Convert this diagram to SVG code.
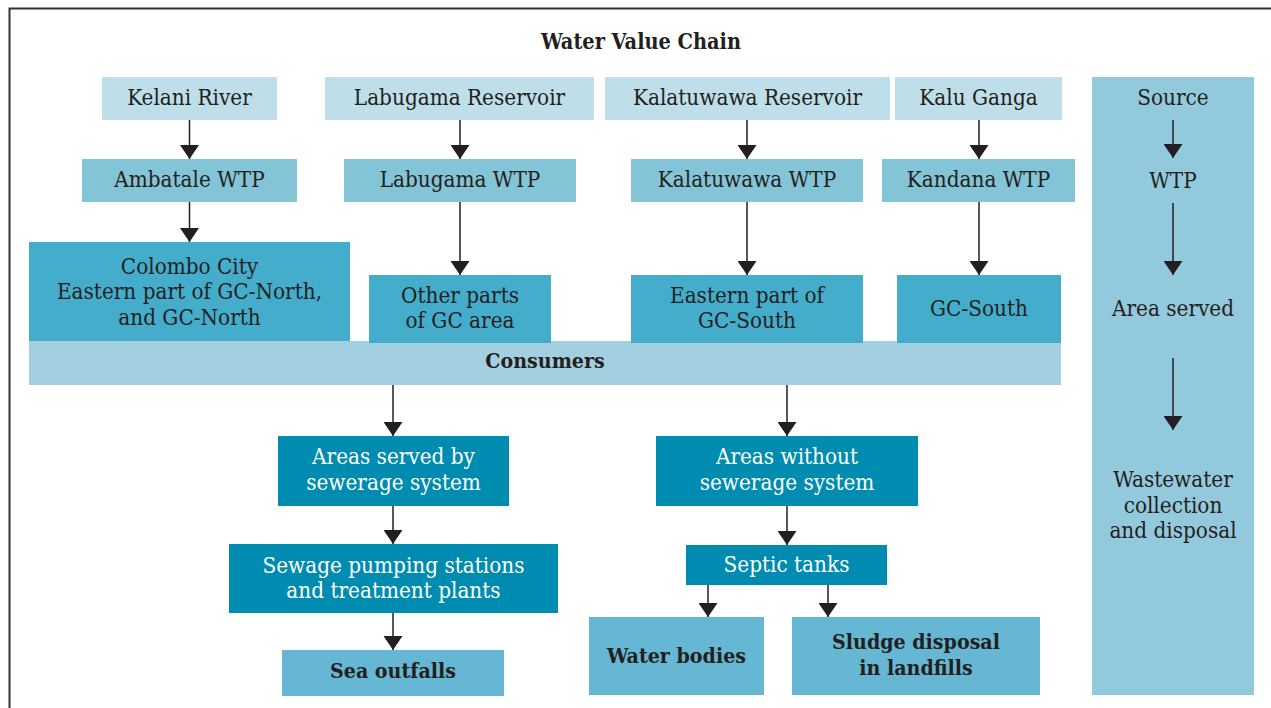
<svg xmlns="http://www.w3.org/2000/svg" width="1271" height="708" viewBox="0 0 1271 708">
<style>
text{font-family:"DejaVu Serif Condensed","DejaVu Serif",serif;font-stretch:condensed;font-size:22.3px;fill:#231f20;text-anchor:middle}
.w{fill:#ffffff}
.b{font-weight:bold;font-size:21.2px}
.src{fill:#bedfe9}
.wtp{fill:#83c4d7}
.area{fill:#44adcc}
.cons{fill:#a3d0e0}
.dark{fill:#008bb0}
.end{fill:#65b7d3}
.panel{fill:#93c9dc}
.c line{stroke:#231f20;stroke-width:1.5;marker-end:url(#ah)}
</style>
<defs>
<marker id="ah" viewBox="0 0 14 19" refX="14" refY="9.5" markerWidth="14" markerHeight="19" markerUnits="userSpaceOnUse" orient="auto">
<path d="M0,0 L14,9.5 L0,19 Z" fill="#231f20"/>
</marker>
</defs>
<rect width="1271" height="708" fill="#ffffff"/>
<path d="M9.5,708 V8.5 H1271" fill="none" stroke="#333333" stroke-width="2"/>
<text x="641" y="49" class="b" style="font-size:21.5px">Water Value Chain</text>

<g id="panel">
<rect class="panel" x="1092" y="77" width="162" height="618"/>
<text x="1173" y="105">Source</text>
<text x="1173" y="188">WTP</text>
<text x="1173" y="316">Area served</text>
<text x="1173" y="487">Wastewater</text>
<text x="1173" y="513">collection</text>
<text x="1173" y="538">and disposal</text>
</g>

<g id="consumers"><rect class="cons" x="29" y="341" width="1032" height="44"/><text x="545" y="368" class="b">Consumers</text></g>

<g id="kelani"><rect class="src" x="102" y="77" width="175" height="43"/><text x="189.5" y="105">Kelani River</text></g>
<g id="labugama-res"><rect class="src" x="325" y="77" width="269" height="43"/><text x="459.5" y="105">Labugama Reservoir</text></g>
<g id="kalatuwawa-res"><rect class="src" x="605" y="77" width="285" height="43"/><text x="747.5" y="105">Kalatuwawa Reservoir</text></g>
<g id="kalu"><rect class="src" x="895" y="77" width="167" height="43"/><text x="978.5" y="105">Kalu Ganga</text></g>

<g id="ambatale"><rect class="wtp" x="82" y="159" width="215" height="43"/><text x="189.5" y="187">Ambatale WTP</text></g>
<g id="labugama-wtp"><rect class="wtp" x="344" y="159" width="232" height="43"/><text x="460" y="187">Labugama WTP</text></g>
<g id="kalatuwawa-wtp"><rect class="wtp" x="631" y="159" width="232" height="43"/><text x="747" y="187">Kalatuwawa WTP</text></g>
<g id="kandana"><rect class="wtp" x="882" y="159" width="193" height="43"/><text x="978.5" y="187">Kandana WTP</text></g>

<g id="colombo"><rect class="area" x="29" y="242" width="321" height="99"/><text x="189.5" y="274">Colombo City</text><text x="189.5" y="299">Eastern part of GC-North,</text><text x="189.5" y="325">and GC-North</text></g>
<g id="other"><rect class="area" x="369" y="275" width="182" height="68"/><text x="460" y="303">Other parts</text><text x="460" y="328">of GC area</text></g>
<g id="eastern"><rect class="area" x="631" y="275" width="232" height="68"/><text x="747" y="303">Eastern part of</text><text x="747" y="328">GC-South</text></g>
<g id="gcsouth"><rect class="area" x="897" y="275" width="164" height="68"/><text x="979" y="316">GC-South</text></g>

<g id="served"><rect class="dark" x="278" y="436" width="231" height="70"/><text x="393.5" y="464" class="w">Areas served by</text><text x="393.5" y="490" class="w">sewerage system</text></g>
<g id="pumping"><rect class="dark" x="229" y="544" width="329" height="69"/><text x="393.5" y="573" class="w">Sewage pumping stations</text><text x="393.5" y="598" class="w">and treatment plants</text></g>
<g id="sea"><rect class="end" x="282" y="650" width="222" height="46"/><text x="393" y="678" class="b">Sea outfalls</text></g>
<g id="without"><rect class="dark" x="656" y="436" width="262" height="70"/><text x="787" y="464" class="w">Areas without</text><text x="787" y="490" class="w">sewerage system</text></g>
<g id="septic"><rect class="dark" x="686" y="545" width="201" height="40"/><text x="786.5" y="572" class="w">Septic tanks</text></g>
<g id="waterbodies"><rect class="end" x="589" y="617" width="175" height="78"/><text x="676.5" y="663" class="b">Water bodies</text></g>
<g id="sludge"><rect class="end" x="792" y="617" width="248" height="78"/><text x="916" y="649" class="b">Sludge disposal</text><text x="916" y="675" class="b">in landfills</text></g>

<g id="connectors" class="c">
<line x1="189.5" y1="120" x2="189.5" y2="159"/>
<line x1="189.5" y1="202" x2="189.5" y2="242"/>
<line x1="460" y1="120" x2="460" y2="159"/>
<line x1="460" y1="202" x2="460" y2="275"/>
<line x1="747" y1="120" x2="747" y2="159"/>
<line x1="747" y1="202" x2="747" y2="275"/>
<line x1="979" y1="120" x2="979" y2="159"/>
<line x1="979" y1="202" x2="979" y2="275"/>
<line x1="393" y1="385" x2="393" y2="436"/>
<line x1="393" y1="506" x2="393" y2="544"/>
<line x1="393" y1="613" x2="393" y2="650"/>
<line x1="787" y1="385" x2="787" y2="436"/>
<line x1="787" y1="506" x2="787" y2="545"/>
<line x1="708" y1="585" x2="708" y2="617"/>
<line x1="828" y1="585" x2="828" y2="617"/>
<line x1="1173" y1="120" x2="1173" y2="158"/>
<line x1="1173" y1="203" x2="1173" y2="275"/>
<line x1="1173" y1="358" x2="1173" y2="430"/>
</g>
</svg>
